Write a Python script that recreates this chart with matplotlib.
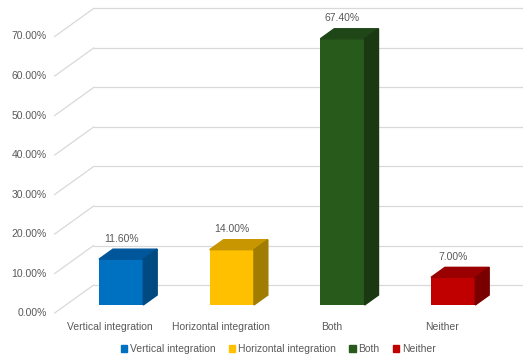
import matplotlib.pyplot as plt
from matplotlib.patches import Polygon, Patch

plt.rcParams['font.family'] = ['Liberation Sans', 'DejaVu Sans']

categorias = ['Vertical integration', 'Horizontal integration', 'Both', 'Neither']
valores = [11.6, 14.0, 67.4, 7.0]
ticks = [0, 10, 20, 30, 40, 50, 60, 70]

cor_frente = ['#0070C0', '#FFC000', '#285A1C', '#C00000']
cor_topo = ['#00569A', '#C89600', '#1F4616', '#9A0000']
cor_lado = ['#004A82', '#A07C00', '#1A3812', '#7A0000']

cinza_txt = '#595959'
cinza_grade = '#D9D9D9'
fs = 7.5

# profundidade da "caixa" 3D em unidades de dados
DX = 0.352
DY = 7.09
d0, d1 = 0.286, 0.643   # frente e fundo das barras
larg = 0.40
x_esq = -0.5

fig = plt.figure(figsize=(5.23, 3.58), dpi=100)
ax = fig.add_axes([0, 0, 1, 1])
ax.set_xlim(-0.994, 3.732)
ax.set_ylim(-11.39, 79.24)
ax.axis('off')

# grade: diagonal da parede lateral + linha da parede do fundo
for t in ticks:
    ax.plot([x_esq, x_esq + DX], [t, t + DY], color=cinza_grade, lw=0.9, zorder=1)
    ax.plot([x_esq + DX, 5], [t + DY, t + DY], color=cinza_grade, lw=0.9, zorder=1)
    ax.text(x_esq - 0.072, t, f'{t:.2f}%', ha='right', va='center',
            fontsize=fs, color=cinza_txt)

# barras
for i, v in enumerate(valores):
    xf = i + d0 * DX
    ax.bar(xf, v, width=larg, bottom=d0 * DY, color=cor_frente[i], zorder=3)
    esq, dir_ = xf - larg / 2, xf + larg / 2
    ox, oy = (d1 - d0) * DX, (d1 - d0) * DY
    topo = [(esq, v + d0 * DY), (dir_, v + d0 * DY),
            (dir_ + ox, v + d0 * DY + oy), (esq + ox, v + d0 * DY + oy)]
    lado = [(dir_, d0 * DY), (dir_ + ox, d0 * DY + oy),
            (dir_ + ox, v + d0 * DY + oy), (dir_, v + d0 * DY)]
    ax.add_patch(Polygon(topo, closed=True, color=cor_topo[i], zorder=3))
    ax.add_patch(Polygon(lado, closed=True, color=cor_lado[i], zorder=3))
    ax.text(xf, v + d1 * DY + 2.6, f'{v:.2f}%', ha='center', va='center',
            fontsize=fs, color=cinza_txt, zorder=4)
    ax.text(i, -3.5, categorias[i], ha='center', va='center',
            fontsize=fs, color=cinza_txt)

handles = [Patch(color=c, label=l) for c, l in zip(cor_frente, categorias)]
leg = fig.legend(handles=handles, loc='center', bbox_to_anchor=(0.532, 0.025),
                 ncol=4, frameon=False, fontsize=fs, handlelength=0.6,
                 handleheight=0.6, handletextpad=0.25, columnspacing=1.3)
for t in leg.get_texts():
    t.set_color(cinza_txt)

fig.savefig('out.png', dpi=100)
